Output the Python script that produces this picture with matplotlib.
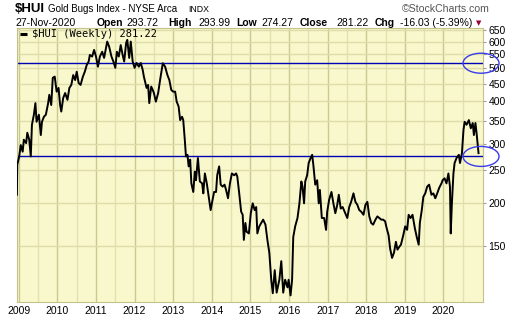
import matplotlib
matplotlib.use('Agg')
import matplotlib.pyplot as plt
from matplotlib.patches import Ellipse
from matplotlib.ticker import FixedLocator, NullLocator, NullFormatter

# weekly closes of $HUI (decimal year, value)
dates = [
    2008.95, 2008.96, 2009.01, 2009.05, 2009.10, 2009.13, 2009.19, 2009.22, 2009.27, 2009.31,
    2009.34, 2009.39, 2009.43, 2009.46, 2009.52, 2009.57, 2009.60, 2009.65, 2009.70, 2009.76,
    2009.79, 2009.84, 2009.88, 2009.93, 2009.98, 2010.03, 2010.07, 2010.10, 2010.15, 2010.20,
    2010.26, 2010.31, 2010.36, 2010.41, 2010.46, 2010.50, 2010.55, 2010.60, 2010.66, 2010.71,
    2010.76, 2010.81, 2010.84, 2010.90, 2010.95, 2011.00, 2011.05, 2011.10, 2011.16, 2011.21,
    2011.26, 2011.29, 2011.34, 2011.40, 2011.45, 2011.50, 2011.54, 2011.59, 2011.64, 2011.69,
    2011.73, 2011.78, 2011.81, 2011.86, 2011.90, 2011.95, 2012.00, 2012.05, 2012.11, 2012.16,
    2012.21, 2012.24, 2012.28, 2012.31, 2012.35, 2012.38, 2012.43, 2012.47, 2012.50, 2012.55,
    2012.61, 2012.66, 2012.73, 2012.79, 2012.85, 2012.90, 2012.95, 2013.00, 2013.05, 2013.09,
    2013.14, 2013.18, 2013.23, 2013.26, 2013.30, 2013.33, 2013.37, 2013.40, 2013.44, 2013.47,
    2013.52, 2013.56, 2013.59, 2013.64, 2013.69, 2013.75, 2013.78, 2013.82, 2013.87, 2013.92,
    2013.97, 2014.02, 2014.06, 2014.11, 2014.14, 2014.19, 2014.23, 2014.28, 2014.33, 2014.37,
    2014.42, 2014.47, 2014.52, 2014.58, 2014.63, 2014.66, 2014.71, 2014.76, 2014.80, 2014.83,
    2014.87, 2014.90, 2014.96, 2015.01, 2015.06, 2015.11, 2015.15, 2015.18, 2015.23, 2015.28,
    2015.33, 2015.39, 2015.44, 2015.49, 2015.54, 2015.58, 2015.63, 2015.68, 2015.75, 2015.80,
    2015.85, 2015.90, 2015.96, 2015.99, 2016.04, 2016.08, 2016.11, 2016.16, 2016.22, 2016.27,
    2016.32, 2016.35, 2016.39, 2016.42, 2016.47, 2016.51, 2016.56, 2016.60, 2016.63, 2016.68,
    2016.73, 2016.77, 2016.80, 2016.85, 2016.91, 2016.96, 2016.99, 2017.04, 2017.10, 2017.15,
    2017.20, 2017.25, 2017.29, 2017.34, 2017.39, 2017.44, 2017.51, 2017.56, 2017.61, 2017.67,
    2017.72, 2017.77, 2017.82, 2017.87, 2017.93, 2017.98, 2018.03, 2018.08, 2018.13, 2018.18,
    2018.24, 2018.29, 2018.34, 2018.39, 2018.44, 2018.49, 2018.53, 2018.58, 2018.62, 2018.67,
    2018.72, 2018.77, 2018.81, 2018.86, 2018.90, 2018.96, 2019.01, 2019.06, 2019.10, 2019.15,
    2019.20, 2019.26, 2019.31, 2019.36, 2019.39, 2019.44, 2019.48, 2019.53, 2019.58, 2019.63,
    2019.69, 2019.74, 2019.79, 2019.84, 2019.89, 2019.95, 2019.98, 2020.03, 2020.08, 2020.13,
    2020.17, 2020.19, 2020.22, 2020.26, 2020.29, 2020.34, 2020.40, 2020.43, 2020.48, 2020.52,
    2020.55, 2020.60, 2020.66, 2020.71, 2020.76, 2020.79, 2020.83, 2020.86, 2020.91,
]
closes = [
    212, 260, 275, 297, 284, 308, 301, 323, 308, 275,
    341, 365, 395, 348, 365, 318, 348, 360, 365, 395,
    418, 390, 469, 473, 427, 438, 390, 373, 409, 423,
    404, 438, 447, 478, 462, 489, 453, 447, 473, 489,
    512, 524, 548, 542, 567, 542, 506, 542, 560, 537,
    575, 600, 580, 542, 524, 502, 560, 542, 586, 548,
    524, 594, 607, 537, 600, 524, 502, 519, 506, 519,
    495, 473, 453, 438, 447, 395, 442, 432, 423, 399,
    423, 462, 518, 506, 478, 462, 432, 427, 427, 399,
    386, 352, 360, 352, 308, 275, 278, 257, 269, 229,
    216, 248, 234, 272, 232, 229, 214, 245, 229, 209,
    191, 205, 216, 216, 242, 257, 227, 224, 227, 219,
    207, 229, 245, 242, 245, 240, 214, 189, 185, 156,
    175, 165, 163, 187, 200, 191, 195, 163, 171, 175,
    179, 173, 156, 143, 119, 108.6, 127, 109, 119, 135,
    109, 119, 113, 119, 107, 119, 159, 171, 181, 200,
    232, 224, 200, 232, 242, 263, 272, 278, 260, 227,
    234, 200, 219, 181, 181, 167, 189, 205, 216, 200,
    187, 198, 212, 193, 195, 189, 181, 195, 202, 214,
    202, 198, 191, 189, 185, 198, 202, 183, 175, 173,
    179, 183, 181, 179, 179, 177, 169, 161, 147, 138,
    143, 154, 146, 149, 151, 161, 171, 167, 185, 181,
    185, 169, 159, 151, 175, 191, 209, 214, 224, 227,
    212, 214, 207, 214, 222, 229, 234, 237, 229, 245,
    224, 163, 200, 245, 263, 272, 278, 263, 281, 329,
    348, 341, 352, 333, 345, 318, 345, 322, 281.22,
]

resistance = 518
support = 275
y_ticks = [150, 200, 250, 300, 350, 400, 450, 500, 550, 600, 650]
years = list(range(2009, 2021))
half_years = [y + 0.5 for y in range(2008, 2021)]

W, H = 520, 318
FONT = 'Liberation Sans'


def px(x, y):
    return x / W, 1 - y / H


fig = plt.figure(figsize=(W / 100, H / 100), dpi=100)
fig.patch.set_facecolor('white')
ax = fig.add_axes([17 / W, 16 / H, 466 / W, 274 / H])
ax.set_facecolor('#f9f8cc')

ax.set_yscale('log')
ax.set_ylim(102.3, 658)
ax.set_xlim(2008.953, 2021.026)

ax.yaxis.set_major_locator(FixedLocator(y_ticks))
ax.yaxis.set_minor_locator(NullLocator())
ax.yaxis.set_minor_formatter(NullFormatter())
ax.set_yticklabels([str(v) for v in y_ticks])
ax.yaxis.tick_right()
ax.tick_params(axis='y', which='major', labelsize=7.5, length=2, pad=2,
               color='#999999', labelcolor='black')
ax.set_xticks(years)
ax.set_xticklabels([str(y) for y in years])
ax.xaxis.set_minor_locator(FixedLocator(half_years))
ax.tick_params(axis='x', which='both', labelsize=7.5, length=0, pad=3)
for lab in ax.get_xticklabels() + ax.get_yticklabels():
    lab.set_family(FONT)

ax.grid(which='major', axis='x', color='#c9c992', lw=1.0)
ax.grid(which='minor', axis='x', color='#e2e1b0', lw=1.0)
ax.grid(which='major', axis='y', color='#dedcaa', lw=1.0)
ax.set_axisbelow(True)
for sp in ax.spines.values():
    sp.set_color('#c2c28a')

ax.axhline(resistance, color='#0000b4', lw=1.0, zorder=2)
ax.axhline(support, color='#0000b4', lw=1.0, zorder=2)

ax.plot(dates, closes, color='black', lw=1.4, solid_joinstyle='round', zorder=3)

# blue circles marking the levels at the right edge
for lvl in (resistance, support):
    cx, cy = ax.transAxes.inverted().transform(ax.transData.transform((2020.975, lvl)))
    e = Ellipse((cx, cy), 36 / 466, 20 / 274, transform=ax.transAxes,
                fill=False, edgecolor='#3b3bea', lw=1.0, clip_on=False, zorder=4)
    ax.add_patch(e)

# legend
leg_y = (302 - 33.7) / 274
ax.plot([0.007, 0.021], [leg_y, leg_y], transform=ax.transAxes,
        color='black', lw=2.2, solid_capstyle='butt', zorder=5)
fig.text(*px(31.5, 33.7), '$HUI (Weekly) 281.22', family='DejaVu Sans Mono', fontsize=7.5,
         va='center', ha='left', parse_math=False)

# header
fig.text(*px(15, 9.5), '$HUI', family=FONT, fontweight='bold', fontsize=9.5,
         va='center', parse_math=False)
fig.text(*px(48, 9.5), 'Gold Bugs Index - NYSE Arca', family=FONT, fontsize=7, va='center')
fig.text(*px(188, 9.8), 'INDX', family=FONT, fontsize=6.3, va='center')
fig.text(*px(401.5, 8.8), '\u00a9StockCharts.com', family=FONT, fontsize=7.6, color='#555555',
         va='center')

y2 = 23.5
pieces = [
    (15, '27-Nov-2020', 'normal'),
    (97, 'Open', 'bold'), (126.5, '293.72', 'normal'),
    (168, 'High', 'bold'), (198, '293.99', 'normal'),
    (236.5, 'Low', 'bold'), (261.5, '274.27', 'normal'),
    (300, 'Close', 'bold'), (336, '281.22', 'normal'),
    (375, 'Chg', 'bold'), (400, '-16.03 (-5.39%)', 'normal'),
]
for x, s, w in pieces:
    fig.text(*px(x, y2), s, family=FONT, fontsize=7.5, fontweight=w, va='center')
fig.text(*px(476, y2 - 0.5), '\u25bc', family='DejaVu Sans', fontsize=5, color='#99002e',
         va='center')

fig.savefig('out.png', dpi=100)
